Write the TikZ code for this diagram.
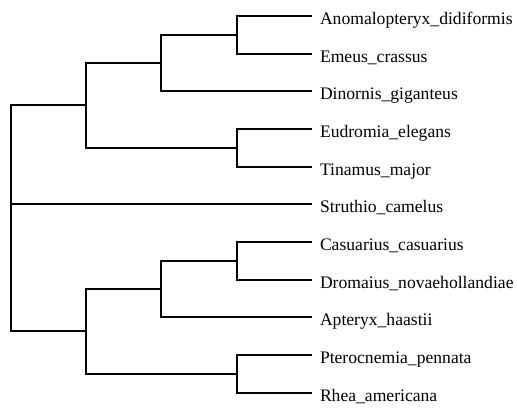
\documentclass[tikz,border=0pt]{standalone}
\usepackage{fontspec}
\setmainfont{Liberation Serif}
\begin{document}
\begin{tikzpicture}[x=1pt,y=-1pt,
  branch/.style={line width=2.2pt, line join=miter, line cap=butt},
  leaflabel/.style={anchor=base west, inner sep=0pt, outer sep=0pt, font=\fontsize{17.6}{20}\selectfont}]
\useasboundingbox (0,0) rectangle (517,408);
% leaf ends
\coordinate (e1) at (312,16);
\coordinate (e2) at (312,54);
\coordinate (e3) at (312,91);
\coordinate (e4) at (312,129);
\coordinate (e5) at (312,167);
\coordinate (e6) at (312,204);
\coordinate (e7) at (312,242);
\coordinate (e8) at (312,280);
\coordinate (e9) at (312,317);
\coordinate (e10) at (312,355);
\coordinate (e11) at (312,393);
% labels
\node[leaflabel] (l1) at (320,24.3) {Anomalopteryx\_didiformis};
\node[leaflabel] (l2) at (320,62) {Emeus\_crassus};
\node[leaflabel] (l3) at (320,99.7) {Dinornis\_giganteus};
\node[leaflabel] (l4) at (320,137.4) {Eudromia\_elegans};
\node[leaflabel] (l5) at (320,175.1) {Tinamus\_major};
\node[leaflabel] (l6) at (320,212.8) {Struthio\_camelus};
\node[leaflabel] (l7) at (320,250.5) {Casuarius\_casuarius};
\node[leaflabel] (l8) at (320,288.2) {Dromaius\_novaehollandiae};
\node[leaflabel] (l9) at (320,325.9) {Apteryx\_haastii};
\node[leaflabel] (l10) at (320,363.6) {Pterocnemia\_pennata};
\node[leaflabel] (l11) at (320,401.3) {Rhea\_americana};
% internal nodes
\coordinate (ae) at (237,35);
\coordinate (moa) at (161,63);
\coordinate (tin) at (237,148);
\coordinate (top) at (86,105);
\coordinate (cd) at (237,261);
\coordinate (cda) at (161,289);
\coordinate (rh) at (237,374);
\coordinate (bot) at (86,331);
\coordinate (root) at (11,218);
% connectors
\draw[branch] (ae) |- (e1);
\draw[branch] (ae) |- (e2);
\draw[branch] (moa) |- (ae);
\draw[branch] (moa) |- (e3);
\draw[branch] (tin) |- (e4);
\draw[branch] (tin) |- (e5);
\draw[branch] (top) |- (moa);
\draw[branch] (top) |- (tin);
\draw[branch] (cd) |- (e7);
\draw[branch] (cd) |- (e8);
\draw[branch] (cda) |- (cd);
\draw[branch] (cda) |- (e9);
\draw[branch] (rh) |- (e10);
\draw[branch] (rh) |- (e11);
\draw[branch] (bot) |- (cda);
\draw[branch] (bot) |- (rh);
\draw[branch] (root) |- (top);
\draw[branch] (root) |- (e6);
\draw[branch] (root) |- (bot);
\end{tikzpicture}
\end{document}
